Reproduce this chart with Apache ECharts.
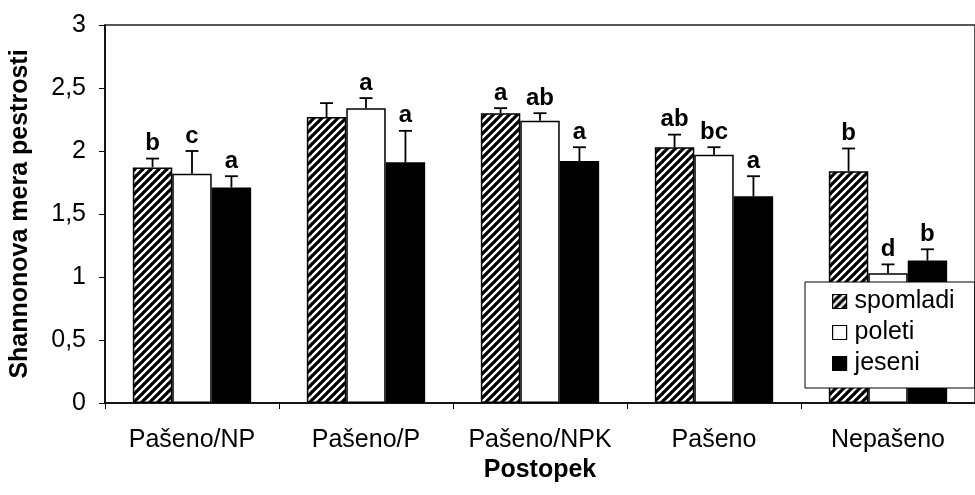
<!DOCTYPE html>
<html>
<head>
<meta charset="utf-8">
<script src="https://cdn.jsdelivr.net/npm/echarts@6/dist/echarts.min.js"></script>
<style>html,body{margin:0;padding:0;background:#fff}#c{width:975px;height:495px}</style>
</head>
<body>
<div id="c"></div>
<script>
const categories = ['Pašeno/NP', 'Pašeno/P', 'Pašeno/NPK', 'Pašeno', 'Nepašeno'];
const seriesNames = ['spomladi', 'poleti', 'jeseni'];
const spomladi = [1.87, 2.27, 2.30, 2.03, 1.84];
const poleti   = [1.82, 2.34, 2.24, 1.97, 1.03];
const jeseni   = [1.71, 1.91, 1.92, 1.64, 1.13];
const errSpomladi = [0.07, 0.11, 0.04, 0.10, 0.18];
const errPoleti   = [0.18, 0.08, 0.06, 0.06, 0.07];
const errJeseni   = [0.09, 0.25, 0.11, 0.16, 0.09];
const lblSpomladi = ['b', '', 'a', 'ab', 'b'];
const lblPoleti   = ['c', 'a', 'ab', 'bc', 'd'];
const lblJeseni   = ['a', 'a', 'a', 'a', 'b'];
const yTicks = [0, 0.5, 1, 1.5, 2, 2.5, 3];

const FONT = '"Liberation Sans", Arial, sans-serif';
const CAT_GAP = 0.32;

// hatch pattern
const pc = document.createElement('canvas');
pc.width = 8; pc.height = 8;
const pctx = pc.getContext('2d');
pctx.fillStyle = '#fff'; pctx.fillRect(0, 0, 8, 8);
pctx.strokeStyle = '#000'; pctx.lineWidth = 3.2; pctx.lineCap = 'square';
for (const k of [-8, 0, 8]) { pctx.beginPath(); pctx.moveTo(k, 8); pctx.lineTo(k + 8, 0); pctx.stroke(); }
const hatch = { image: pc, repeat: 'repeat' };

const vals = [spomladi, poleti, jeseni];
const errs = [errSpomladi, errPoleti, errJeseni];
const lbls = [lblSpomladi, lblPoleti, lblJeseni];
const fills = [hatch, '#ffffff', '#000000'];

const errData = [];
const errLabels = [];
for (let s = 0; s < 3; s++) {
  for (let i = 0; i < categories.length; i++) {
    errData.push([i, vals[s][i], errs[s][i], s]);
    errLabels.push(lbls[s][i]);
  }
}

const chart = echarts.init(document.getElementById('c'), null, { renderer: 'canvas' });
const option = {
  animation: false,
  backgroundColor: '#fff',
  grid: { left: 102, top: 25, width: 888, height: 378, show: true, borderColor: '#222', borderWidth: 1.5, backgroundColor: 'transparent' },
  legend: {
    data: seriesNames,
    orient: 'vertical',
    left: 805, top: 282,
    padding: [7, 20, 12, 27],
    itemGap: 6,
    itemWidth: 14, itemHeight: 14,
    icon: 'rect',
    backgroundColor: '#fff',
    borderColor: '#000', borderWidth: 1,
    borderRadius: 0,
    itemStyle: { borderColor: '#000', borderWidth: 1.2 },
    textStyle: { fontFamily: FONT, fontSize: 25, color: '#000', padding: [0, 0, 0, 3] },
    z: 10
  },
  xAxis: {
    type: 'category',
    data: categories,
    name: 'Postopek',
    nameLocation: 'middle',
    nameGap: 55,
    nameTextStyle: { fontFamily: FONT, fontSize: 25, fontWeight: 'bold', color: '#000' },
    axisLine: { lineStyle: { color: '#000', width: 1.5 } },
    axisTick: { show: true, length: 6, lineStyle: { color: '#000' } },
    axisLabel: { interval: 0, fontFamily: FONT, fontSize: 25, color: '#000', margin: 25 },
    splitLine: { show: false }
  },
  yAxis: {
    type: 'value',
    min: 0, max: 3, interval: 0.5,
    name: 'Shannonova mera pestrosti',
    nameLocation: 'middle',
    nameGap: 72,
    nameTextStyle: { fontFamily: FONT, fontSize: 25, fontWeight: 'bold', color: '#000' },
    axisLine: { show: true, lineStyle: { color: '#000', width: 1.5 } },
    axisTick: { show: true, length: 6, lineStyle: { color: '#000' } },
    axisLabel: {
      fontFamily: FONT, fontSize: 25, color: '#000', margin: 19,
      formatter: v => (yTicks.includes(v) ? String(v).replace('.', ',') : '')
    },
    splitLine: { show: false }
  },
  series: [
    ...seriesNames.map((n, s) => ({
      name: n,
      type: 'bar',
      data: vals[s],
      barGap: '0%',
      barCategoryGap: (CAT_GAP * 100) + '%',
      itemStyle: { color: fills[s], borderColor: '#000', borderWidth: 1.5 },
      z: 2
    })),
    {
      type: 'custom',
      name: 'err',
      data: errData,
      z: 3,
      renderItem: function (params, api) {
        const ci = api.value(0), v = api.value(1), e = api.value(2), si = api.value(3);
        const catW = api.size([1, 0])[0];
        const bw = catW * (1 - CAT_GAP) / 3;
        const base = api.coord([ci, v]);
        const cx = base[0] + (si - 1) * bw;
        const top = api.coord([ci, v + e])[1];
        const ls = { stroke: '#000', lineWidth: 1.8 };
        const children = [
          { type: 'line', shape: { x1: cx, y1: base[1], x2: cx, y2: top }, style: ls },
          { type: 'line', shape: { x1: cx - 6.5, y1: top, x2: cx + 6.5, y2: top }, style: ls }
        ];
        const t = errLabels[params.dataIndex];
        if (t) {
          children.push({
            type: 'text',
            style: { x: cx, y: top - 3, text: t, align: 'center', verticalAlign: 'bottom',
              font: 'bold 24px ' + FONT, fill: '#000' }
          });
        }
        return { type: 'group', children };
      }
    }
  ]
};
chart.setOption(option);
</script>
</body>
</html>
